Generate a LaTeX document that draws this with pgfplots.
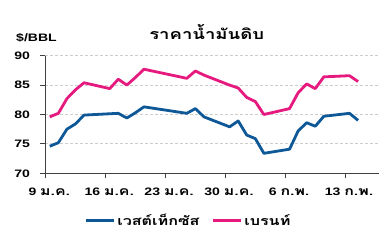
\documentclass[border=0pt]{standalone}
\usepackage{fontspec}
\setmainfont{Liberation Sans}[FakeStretch=1.3]
\newfontfamily\thaifont[Script=Thai,FakeStretch=1.3,Scale=1.13]{Loma}
\usepackage{pgfplots}
\pgfplotsset{compat=1.18}
\definecolor{wti}{RGB}{14,88,152}
\definecolor{brent}{RGB}{230,25,127}
\definecolor{axgray}{RGB}{64,64,64}
\definecolor{gridgray}{RGB}{205,205,205}
\pgfplotstableread{
x y
0.5 74.6
1.5 75.2
2.5 77.5
3.5 78.4
4.5 79.9
8.5 80.2
9.5 79.4
10.5 80.3
11.5 81.3
16.5 80.2
17.5 81.0
18.5 79.6
21.5 77.9
22.5 78.9
23.5 76.5
24.5 75.9
25.5 73.4
28.5 74.1
29.5 77.2
30.5 78.6
31.5 78.0
32.5 79.7
35.5 80.2
36.5 79.0
}\wtitable
\pgfplotstableread{
x y
0.5 79.6
1.5 80.2
2.5 82.7
3.5 84.2
4.5 85.4
7.5 84.4
8.5 86.0
9.5 85.0
10.5 86.3
11.5 87.7
16.5 86.15
17.5 87.4
18.5 86.7
21.5 85.0
22.5 84.5
23.5 82.9
24.5 82.2
25.5 80.0
28.5 81.0
29.5 83.7
30.5 85.2
31.5 84.4
32.5 86.4
35.5 86.6
36.5 85.6
}\brenttable
\begin{document}
\begin{tikzpicture}
\useasboundingbox (0,0) rectangle (392pt,243pt);
\begin{axis}[
  at={(45.5pt,69.7pt)}, anchor=south west,
  scale only axis, width=334pt, height=117.6pt,
  xmin=0, xmax=39, ymin=70, ymax=90,
  axis x line*=bottom, axis y line*=left,
  xtick={0,7,14,21,28,35},
  xticklabels={9 {\thaifont ม.ค.},16 {\thaifont ม.ค.},23 {\thaifont ม.ค.},30 {\thaifont ม.ค.},6 {\thaifont ก.พ.},13 {\thaifont ก.พ.}},
  ytick={70,75,80,85,90},
  yticklabels={70,75,80,85,90},
  ymajorgrids,
  grid style={gridgray, line width=0.8pt, dash pattern=on 3pt off 2pt},
  tick align=outside, major tick length=5pt,
  tick style={axgray, line width=1pt},
  axis line style={axgray, line width=1pt},
  ticklabel style={font=\bfseries\fontsize{10.8}{12}\selectfont},
  xticklabel style={xshift=3.8pt, yshift=-6pt},
  yticklabel style={xshift=-7pt},
  legend style={at={(0.428,-0.40)}, anchor=center, draw=none, fill=none,
    legend columns=2, font=\thaifont\bfseries\fontsize{11}{13}\selectfont,
    /tikz/every even column/.append style={column sep=10pt}},
  legend image code/.code={\draw[#1, line width=2.8pt] (0pt,0pt) -- (28pt,0pt);},
  clip=false,
]
\addplot[wti, line width=2.8pt, line join=round] table[x=x,y=y]{\wtitable};
\addlegendentry{เวสต์เท็กซัส}
\addplot[brent, line width=2.8pt, line join=round] table[x=x,y=y]{\brenttable};
\addlegendentry{เบรนท์}
\end{axis}
\node[font=\thaifont\bfseries\fontsize{12.6}{15}\selectfont] at (206.7pt,211pt) {ราคาน้ำมันดิบ};
\node[font=\bfseries\fontsize{10.8}{12}\selectfont] at (36.5pt,205pt) {\$/BBL};
\end{tikzpicture}
\end{document}
